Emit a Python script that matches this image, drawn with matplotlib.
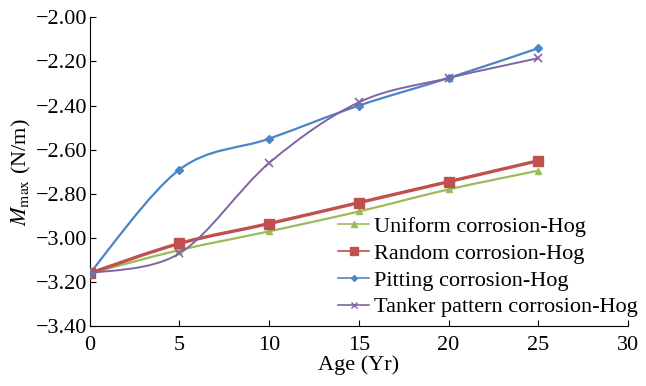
import matplotlib.pyplot as plt
import numpy as np
from matplotlib.path import Path
from matplotlib.patches import PathPatch
from matplotlib.lines import Line2D

plt.rcParams['font.family'] = ['Liberation Serif', 'DejaVu Serif']
plt.rcParams['mathtext.fontset'] = 'stix'

age = [0, 5, 10, 15, 20, 25]
uniform = [-3.16, -3.055, -2.97, -2.88, -2.78, -2.695]
random_c = [-3.16, -3.025, -2.935, -2.84, -2.745, -2.65]
pitting = [-3.16, -2.69, -2.55, -2.40, -2.275, -2.14]
tanker = [-3.16, -3.07, -2.66, -2.385, -2.275, -2.185]

labels = ['Uniform corrosion-Hog', 'Random corrosion-Hog',
          'Pitting corrosion-Hog', 'Tanker pattern corrosion-Hog']
colors = ['#9BBB59', '#C0504D', '#4A85C6', '#8064A2']
markers = ['^', 's', 'D', 'x']
msizes = [5, 7, 4, 6]
widths = [1.6, 2.4, 1.6, 1.4]


def smooth_path(x, y):
    # Excel-style smoothed line: cubic Bezier through the points
    x = np.asarray(x, float)
    y = np.asarray(y, float)
    n = len(x)
    verts = [(x[0], y[0])]
    codes = [Path.MOVETO]
    for i in range(n - 1):
        x0, y0 = (x[i - 1], y[i - 1]) if i > 0 else (x[i], y[i])
        x3, y3 = (x[i + 2], y[i + 2]) if i + 2 < n else (x[i + 1], y[i + 1])
        c1 = (x[i] + (x[i + 1] - x0) / 6, y[i] + (y[i + 1] - y0) / 6)
        c2 = (x[i + 1] - (x3 - x[i]) / 6, y[i + 1] - (y3 - y[i]) / 6)
        verts += [c1, c2, (x[i + 1], y[i + 1])]
        codes += [Path.CURVE4] * 3
    return Path(verts, codes)


fig = plt.figure(figsize=(6.46, 3.86), dpi=100)
ax = fig.add_axes([0.139, 0.155, 0.833, 0.80])

handles = []
for ys, lab, col, mk, ms, lw in zip([uniform, random_c, pitting, tanker],
                                    labels, colors, markers, msizes, widths):
    ax.add_patch(PathPatch(smooth_path(age, ys), facecolor='none',
                           edgecolor=col, lw=lw, zorder=2))
    ax.plot(age, ys, ls='none', marker=mk, color=col, ms=ms,
            mew=1.2 if mk == 'x' else 1, zorder=3)
    handles.append(Line2D([], [], color=col, lw=1.2, marker=mk,
                          ms=ms - 1, mew=1))

ax.set_xlim(0, 30)
ax.set_ylim(-3.40, -2.00)
ax.set_xticks(range(0, 31, 5))
yt = np.arange(-3.40, -1.99, 0.20)
ax.set_yticks(yt)
ax.set_yticklabels([f'{v:.2f}'.replace('-', '\u2212') for v in yt])
ax.spines['top'].set_visible(False)
ax.spines['right'].set_visible(False)
ax.tick_params(direction='in', length=4, labelsize=16)
ax.tick_params(axis='y', pad=2)
ax.tick_params(axis='x', pad=7)
ax.set_xlabel('Age (Yr)', fontsize=16, labelpad=0)
ax.set_ylabel(r'$M_{\mathrm{max}}$ (N/m)', fontsize=16, labelpad=2)

ax.legend(handles, labels, loc='lower right', bbox_to_anchor=(1.034, 0.0),
          frameon=False, fontsize=16, handlelength=1.4, handletextpad=0.2,
          labelspacing=0.28, borderaxespad=0)

fig.savefig('out.png', dpi=100)
